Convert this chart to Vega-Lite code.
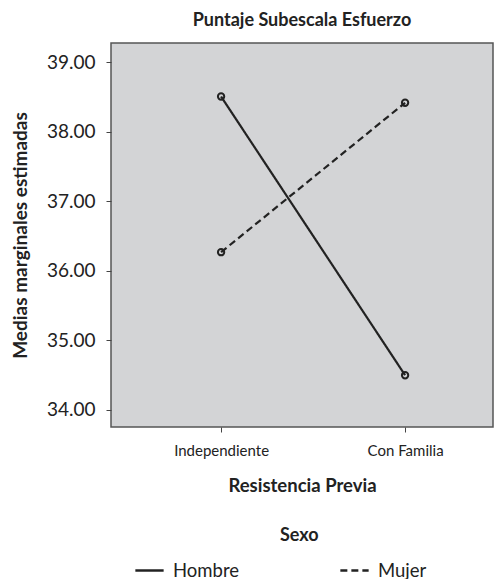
{
  "$schema": "https://vega.github.io/schema/vega-lite/v6.json",
  "autosize": {"type": "none"},
  "padding": {"left": 111, "top": 43, "right": 2, "bottom": 152},
  "width": 382,
  "height": 384,
  "background": "white",
  "title": {"text": "Puntaje Subescala Esfuerzo", "anchor": "middle", "fontSize": 18, "fontWeight": "bold", "font": "Lato", "color": "#222", "offset": 13},
  "config": {
    "font": "Lato",
    "view": {"fill": "#d3d4d6", "stroke": "#555", "strokeWidth": 1.5},
    "axis": {"domain": false, "grid": false, "tickColor": "#444", "labelColor": "#222", "titleColor": "#222", "tickSize": 5}
  },
  "data": {"values": [
    {"Resistencia": "Independiente", "Sexo": "Hombre", "Media": 38.51},
    {"Resistencia": "Con Familia", "Sexo": "Hombre", "Media": 34.50},
    {"Resistencia": "Independiente", "Sexo": "Mujer", "Media": 36.27},
    {"Resistencia": "Con Familia", "Sexo": "Mujer", "Media": 38.42}
  ]},
  "encoding": {
    "x": {"field": "Resistencia", "type": "nominal", "sort": ["Independiente", "Con Familia"],
      "scale": {"type": "point", "padding": 0.538, "align": 0.556},
      "axis": {"title": "Resistencia Previa", "labelAngle": 0, "labelFontSize": 15, "labelPadding": 11, "titleFontSize": 18.5, "titleFontWeight": "bold", "titlePadding": 18}},
    "y": {"field": "Media", "type": "quantitative",
      "scale": {"domain": [33.755, 39.28], "nice": false, "zero": false},
      "axis": {"title": "Medias marginales estimadas", "values": [34, 35, 36, 37, 38, 39], "format": ".2f", "labelFontSize": 19, "labelPadding": 11, "titleFontSize": 19, "titleFontWeight": "bold", "titlePadding": 16}}
  },
  "layer": [
    {
      "mark": {"type": "line", "stroke": "#222", "strokeWidth": 2.2},
      "encoding": {
        "strokeDash": {"field": "Sexo", "type": "nominal",
          "scale": {"domain": ["Hombre", "Mujer"], "range": [[1, 0], [7, 4]]},
          "legend": {"title": "Sexo", "orient": "none", "legendX": 23, "legendY": 484, "direction": "horizontal", "columns": 2, "columnPadding": 95,
            "symbolType": "stroke", "symbolSize": 800, "symbolStrokeWidth": 2.5, "symbolStrokeColor": "#222", "labelFontSize": 18.5, "labelColor": "#222", "labelOffset": 8,
            "titleFontSize": 18, "titleFontWeight": "bold", "titleColor": "#222", "titleAnchor": "middle", "titleAlign": "left", "titlePadding": 10, "padding": 0}}
      }
    },
    {
      "mark": {"type": "point", "shape": "circle", "filled": false, "stroke": "#222", "strokeWidth": 2, "size": 40, "opacity": 1},
      "encoding": {"detail": {"field": "Sexo"}}
    }
  ]
}
